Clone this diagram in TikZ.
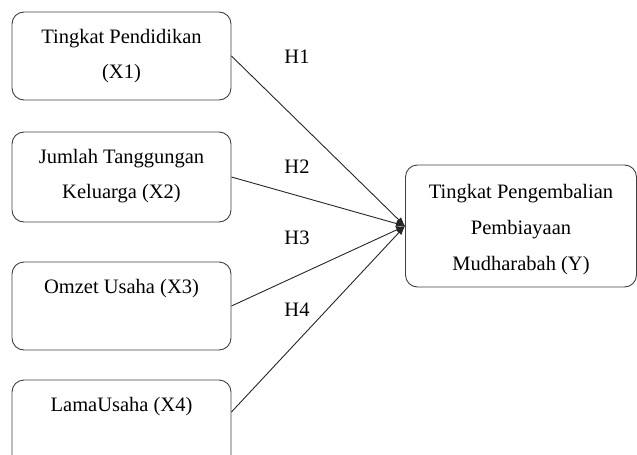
\documentclass[tikz,border=0pt]{standalone}
\usepackage{fontspec}
\setmainfont{Liberation Serif}
\usetikzlibrary{arrows.meta}
\begin{document}
\begin{tikzpicture}[x=1pt,y=-1pt,
  box/.style={draw=black!75,line width=0.9pt,rounded corners=12pt,inner sep=0pt},
  lbl/.style={anchor=base,inner sep=0pt,font=\fontsize{20.5}{24}\selectfont},
  conn/.style={draw=black!85,line width=0.9pt,-{Latex[length=9pt,width=7pt]}}]
\useasboundingbox (0,0) rectangle (637,455);
\begin{scope}
\clip (0,0) rectangle (637,455);
\node[box,minimum width=219pt,minimum height=88pt] (x1) at (121.5,56) {};
\node[box,minimum width=219pt,minimum height=90pt] (x2) at (121.5,177) {};
\node[box,minimum width=219pt,minimum height=88pt] (x3) at (121.5,306) {};
\node[box,minimum width=219pt,minimum height=88pt] (x4) at (121.5,424) {};
\node[box,minimum width=231pt,minimum height=122pt] (y) at (521,226) {};
\end{scope}
\node[lbl] (t1a) at (121.5,43) {Tingkat Pendidikan};
\node[lbl] (t1b) at (121.5,78) {(X1)};
\node[lbl] (t2a) at (121.5,163) {Jumlah Tanggungan};
\node[lbl] (t2b) at (121.5,198) {Keluarga (X2)};
\node[lbl] (t3) at (121.5,293) {Omzet Usaha (X3)};
\node[lbl] (t4) at (121.5,411) {LamaUsaha (X4)};
\node[lbl] (ya) at (521,198) {Tingkat Pengembalian};
\node[lbl] (yb) at (521,234) {Pembiayaan};
\node[lbl] (yc) at (521,270) {Mudharabah (Y)};
\node[lbl] (h1) at (297,63) {H1};
\node[lbl] (h2) at (297,173) {H2};
\node[lbl] (h3) at (297,244) {H3};
\node[lbl] (h4) at (297,316) {H4};
\coordinate (s1) at (x1.east);
\coordinate (s2) at (x2.east);
\coordinate (s3) at (x3.east);
\coordinate (s4) at ([yshift=12pt]x4.east);
\draw[conn] (s1) -- (y.west);
\draw[conn] (s2) -- (y.west);
\draw[conn] (s3) -- (y.west);
\draw[conn] (s4) -- (y.west);
\end{tikzpicture}
\end{document}
